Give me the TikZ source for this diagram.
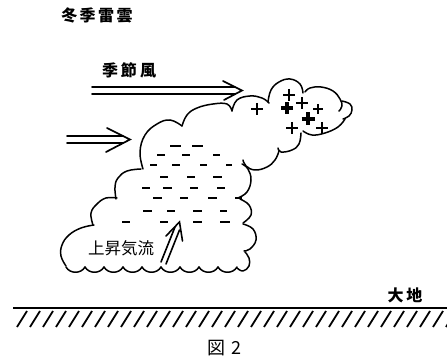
\documentclass[tikz,border=0pt]{standalone}
\usepackage{fontspec}
\newfontfamily\jp{Noto Sans CJK JP}
\newcommand{\gap}[1]{\hspace{#1}}
\begin{document}
\begin{tikzpicture}[x=1pt,y=-1pt,
  cloudline/.style={line width=1.5pt, line cap=round, line join=round},
  windline/.style={line width=1.7pt, line cap=round},
  minus/.style={line width=2.2pt},
  lbl/.style={inner sep=0pt, font=\jp}]
\useasboundingbox (0,0) rectangle (447,363);

% ---- labels ----
\node[lbl, font=\jp\bfseries\fontsize{16}{16}\selectfont] (title) at (97,15) {冬\gap{2.5pt}季\gap{2.5pt}雷\gap{2.5pt}雲};
\node[lbl, font=\jp\bfseries\fontsize{16}{16}\selectfont] (monsoon) at (129,70) {季\gap{3pt}節\gap{3pt}風};
\node[lbl, font=\jp\fontsize{16.5}{16}\selectfont] (updraft) at (121,248) {上昇気流};
\node[lbl, font=\jp\bfseries\fontsize{16}{16}\selectfont] (ground) at (405,295) {大\gap{3pt}地};
\node[lbl, font=\jp\fontsize{18}{18}\selectfont] (fig) at (224,348) {図\gap{6pt}2};

% ---- main cloud body ----
\draw[cloudline] plot[smooth, tension=0.7] coordinates {(66,266) (61,256) (62,245) (69,235) (81,228) (94,225)};
\draw[cloudline] plot[smooth, tension=0.7] coordinates {(93,225) (91,213) (97,204) (106,198) (117,198)};
\draw[cloudline] plot[smooth, tension=0.7] coordinates {(116,199) (115,187) (118,178) (127,171) (141,169)};
\draw[cloudline] plot[smooth, tension=0.7] coordinates {(143,169) (140,152) (145,135) (157,124) (170,120) (182,126)};
\draw[cloudline] plot[smooth, tension=0.7] coordinates {(182,126) (187,115) (197,108) (213,104) (227,104) (232,111)};

% ---- upper (positive) cloud ----
\draw[cloudline] plot[smooth, tension=0.7] coordinates {(232,111) (237,100) (250,96) (262,98) (269,103)};
\draw[cloudline] plot[smooth, tension=0.7] coordinates {(268,102) (271,90) (279,82) (290,79) (300,84) (303,93)};
\draw[cloudline] plot[smooth, tension=0.7] coordinates {(305,92) (310,88) (321,87) (333,91) (340,99) (342,106) (339,111)};
\draw[cloudline] plot[smooth, tension=0.7] coordinates {(342,101) (350,104) (352,110) (349,116) (343,119)};
\draw[cloudline] plot[smooth, tension=0.7] coordinates {(345,119) (338,127) (325,133) (312,135) (303,131)};
\draw[cloudline] plot[smooth, tension=0.7] coordinates {(301,133) (299,144) (292,150) (281,152) (278,148)};
\draw[cloudline] plot[smooth, tension=0.7] coordinates {(279,151) (275,160) (267,167) (255,170) (246,166) (243,160)};

% ---- right flank of the main cloud ----
\draw[cloudline] plot[smooth, tension=0.7] coordinates {(242,164) (248,169) (251,180) (247,192) (238,198)};
\draw[cloudline] plot[smooth, tension=0.7] coordinates {(240,199) (249,205) (251,215) (243,223)};
\draw[cloudline] plot[smooth, tension=0.7] coordinates {(243,224) (253,229) (256,240) (250,249) (244,251)};
\draw[cloudline] plot[smooth, tension=0.7] coordinates {(245,252) (249,258) (249,266) (243,271) (237,268)};

% ---- scalloped cloud base ----
\foreach \xa/\xb in {237/218, 218/199, 199/180, 180/161, 161/142, 142/123, 123/104, 104/85, 85/66}
  \draw[cloudline] (\xa,267) .. controls (\xa-4,274) and (\xb+4,274) .. (\xb,267);

% ---- negative charges ----
\foreach \y/\xs in {146/{170/181,192/203},
                    155/{157/165,182/190,213/220},
                    165/{150/157,172/180,200/207,226/232},
                    177/{160/168,187/195,213/222},
                    188/{142/150,163/172,190/198,217/225},
                    198/{153/162,180/188,208/217,235/242},
                    211/{143/152,167/175,193/202,220/227},
                    222/{122/130,160/168,193/202,220/230}}
  \foreach \a/\b in \xs
    \draw[minus] (\a,\y) -- (\b,\y);

% ---- positive charges ----
\foreach \cx/\cy/\s/\w in {257/109/6/2.5, 289/95/6/2.5, 287/108/6/3.4, 302/103/6/2.5,
                           318/109/5/2.3, 308/119/6.5/3.4, 292/128/6/2.5, 322/128/6/2.5}
  \draw[line width=\w pt] (\cx-\s,\cy) -- (\cx+\s,\cy) (\cx,\cy-\s) -- (\cx,\cy+\s);

% ---- monsoon wind (upper) ----
\coordinate (w1s) at (92,87);   \coordinate (w1e) at (235,87);
\coordinate (w2s) at (92,94);   \coordinate (w2e) at (235,94);
\coordinate (w1a) at (223,81);  \coordinate (w1t) at (242,90.5); \coordinate (w1b) at (224,100);
\draw[windline] (w1s) -- (w1e);
\draw[windline] (w2s) -- (w2e);
\draw[windline, line join=miter] (w1a) -- (w1t) -- (w1b);

% ---- monsoon wind (lower) ----
\coordinate (v1s) at (67,136);  \coordinate (v1e) at (123,136);
\coordinate (v2s) at (67,143);  \coordinate (v2e) at (123,143);
\coordinate (v1a) at (107,128); \coordinate (v1t) at (130,139.5); \coordinate (v1b) at (106,152);
\draw[windline] (v1s) -- (v1e);
\draw[windline] (v2s) -- (v2e);
\draw[windline, line join=miter] (v1a) -- (v1t) -- (v1b);

% ---- updraft arrow ----
\coordinate (u1s) at (161,262); \coordinate (u1e) at (175,227);
\coordinate (u2s) at (166,264); \coordinate (u2e) at (179.5,230);
\coordinate (ua) at (166,236);  \coordinate (ut) at (179.5,222); \coordinate (ub) at (182.5,241);
\draw[line width=1.6pt, line cap=round] (u1s) -- (u1e);
\draw[line width=1.6pt, line cap=round] (u2s) -- (u2e);
\draw[line width=1.6pt, line cap=round, line join=miter] (ua) -- (ut) -- (ub);

% ---- ground with hatching ----
\coordinate (gl) at (13,308); \coordinate (gr) at (447,308);
\draw[line width=2pt] (gl) -- (gr);
\begin{scope}
  \clip (0,300) rectangle (447,340);
  \foreach \x in {27,40,...,460}
    \draw[line width=1.8pt] (\x,311) -- (\x-10,327);
\end{scope}
\end{tikzpicture}
\end{document}
